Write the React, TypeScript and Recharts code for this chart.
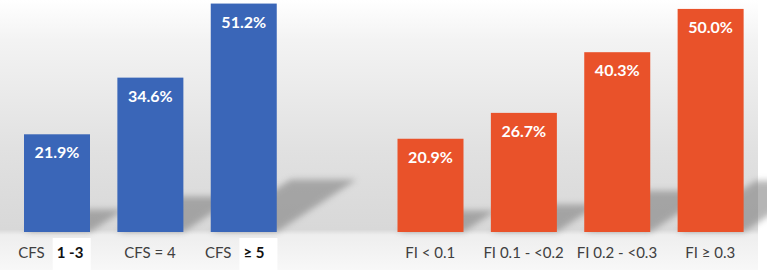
import { Bar, BarChart, Cell, LabelList, XAxis, YAxis } from 'recharts';

const cfsLabels = ['CFS 1 -3', 'CFS = 4', 'CFS ≥ 5'];
const cfsValues = [21.9, 34.6, 51.2];
const fiLabels = ['FI < 0.1', 'FI 0.1 - <0.2', 'FI 0.2 - <0.3', 'FI ≥ 0.3'];
const fiValues = [20.9, 26.7, 40.3, 50.0];

// parts of the CFS labels that are set bold on a white patch
const boldParts: Record<string, string> = { 'CFS 1 -3': '1 -3', 'CFS ≥ 5': '≥ 5' };

const BLUE = '#3a66b8';
const ORANGE = '#e9522a';

const data = [
  ...cfsLabels.map((label, i) => ({ label, value: cfsValues[i], group: 'cfs' })),
  { label: '', value: null, group: 'gap' },
  ...fiLabels.map((label, i) => ({ label, value: fiValues[i], group: 'fi' })),
];

function ShadowBar(props: any) {
  const { x, y, width, height, fill, index } = props;
  if (!height || height <= 0) return null;
  const bottom = y + height;
  const dx = height * 0.35;
  const dy = height * 0.23;
  const id = `sb-${index}`;
  return (
    <g>
      <defs>
        <filter id={`${id}-blur`} x="-50%" y="-50%" width="200%" height="200%">
          <feGaussianBlur stdDeviation="3" />
        </filter>
      </defs>
      <polygon
        points={`${x},${bottom} ${x + width},${bottom} ${x + width + dx},${bottom - dy} ${x + dx},${bottom - dy}`}
        fill="#6e6e6e"
        opacity={0.5}
        filter={`url(#${id}-blur)`}
      />
      <rect x={x} y={y} width={width} height={height} fill={fill} />
    </g>
  );
}

function ValueLabel(props: any) {
  const { x, y, width, value } = props;
  if (value == null) return null;
  return (
    <text
      x={x + width / 2}
      y={y + 24}
      textAnchor="middle"
      fill="#ffffff"
      fontFamily="Lato"
      fontWeight={700}
      fontSize={16}
    >
      {`${value.toFixed(1)}%`}
    </text>
  );
}

function CategoryTick(props: any) {
  const { x, y, payload } = props;
  const label: string = payload.value;
  if (!label) return null;
  const bold = boldParts[label];
  const ty = y + 26;
  if (bold) {
    const plain = label.slice(0, label.length - bold.length).trim();
    return (
      <g>
        <rect x={x - 4} y={y + 6} width={38} height={32} fill="#ffffff" />
        <text x={x - 12} y={ty} textAnchor="end" fill="#404040" fontFamily="Lato" fontSize={15}>
          {plain}
        </text>
        <text x={x} y={ty} textAnchor="start" fill="#111111" fontFamily="Lato" fontWeight={700} fontSize={15}>
          {bold}
        </text>
      </g>
    );
  }
  return (
    <text x={x} y={ty} textAnchor="middle" fill="#404040" fontFamily="Lato" fontSize={15}>
      {label}
    </text>
  );
}

export default function App() {
  return (
    <div style={{ position: 'absolute', left: 0, top: 0, width: 767, height: 270, background: '#ffffff' }}>
      <div
        style={{
          position: 'absolute',
          left: 0,
          top: 0,
          width: 758,
          height: 270,
          background:
            'linear-gradient(to bottom, #ffffff 0%, #f3f3f3 15%, #e1e1e1 55%, #d8d8d8 85%, #eeeeee 87%, #f8f8f8 100%)',
        }}
      />
      <div style={{ position: 'absolute', left: 0, top: 0 }}>
        <BarChart width={767} height={270} data={data} margin={{ top: 0, right: 10, bottom: 0, left: 10 }}>
          <XAxis
            dataKey="label"
            height={38}
            axisLine={false}
            tickLine={false}
            tickSize={0}
            tickMargin={0}
            interval={0}
            tick={<CategoryTick />}
          />
          <YAxis hide domain={[0, 52]} />
          <Bar dataKey="value" barSize={66} shape={<ShadowBar />} isAnimationActive={false}>
            {data.map((d, i) => (
              <Cell key={i} fill={d.group === 'cfs' ? BLUE : ORANGE} />
            ))}
            <LabelList dataKey="value" content={<ValueLabel />} />
          </Bar>
        </BarChart>
      </div>
    </div>
  );
}
